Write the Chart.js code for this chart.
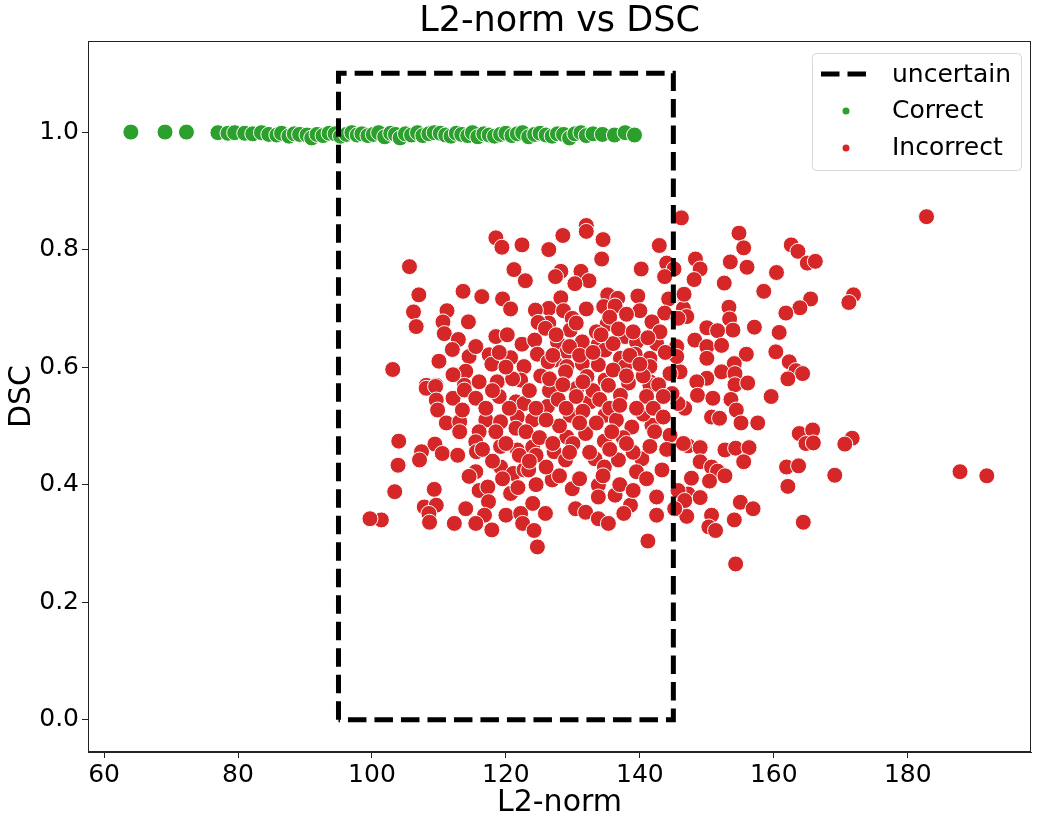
<!DOCTYPE html>
<html>
<head>
<meta charset="utf-8">
<script src="https://cdn.jsdelivr.net/npm/chart.js@4.4.1/dist/chart.umd.min.js"></script>
<style>
  body { margin: 0; background: #fff; }
  #wrap { width: 1040px; height: 824px; }
</style>
</head>
<body>
<div id="wrap"><canvas id="c"></canvas></div>
<script>
// axis ticks
const xTicks = [60, 80, 100, 120, 140, 160, 180];
const yTicks = [0.0, 0.2, 0.4, 0.6, 0.8, 1.0];

// dashed "uncertain" box corners
const boxX = [95, 95, 145, 145, 95];
const boxY = [0, 1.1, 1.1, 0, 0];

// Correct samples [L2-norm, DSC]
const correctPts = [
  [64.0,1.0],[69.1,1.0],[72.3,1.0],[77.0,0.999],[78.5,0.998],[79.5,0.999],[81.0,0.998],[82.2,0.997],
  [83.5,0.999],[84.6,0.996],[85.8,0.995],[86.5,0.998],[87.6,0.993],[88.4,0.997],[89.2,0.996],[90.3,0.995],
  [91.0,0.990],[91.8,0.996],[92.7,0.994],[93.6,0.998],[94.5,0.997],[95.3,0.993],[96.2,0.996],[97.0,0.999],
  [97.8,0.995],[98.5,0.997],[99.4,0.994],[100.2,0.996],[101.0,0.999],[101.9,0.992],[102.8,0.998],[103.5,0.996],
  [104.2,0.990],[105.0,0.997],[105.9,0.995],[106.8,0.999],[107.6,0.994],[108.5,0.997],[109.3,0.999],[110.2,0.998],
  [111.0,0.995],[111.8,0.993],[112.6,0.998],[113.4,0.996],[114.3,0.994],[115.0,0.999],[115.8,0.992],[116.7,0.997],
  [117.5,0.995],[118.3,0.993],[119.2,0.996],[120.0,0.998],[120.9,0.994],[121.7,0.997],[122.5,0.999],[123.4,0.992],
  [124.3,0.996],[125.1,0.998],[126.0,0.995],[126.9,0.993],[127.7,0.997],[128.6,0.996],[129.5,0.990],[130.3,0.997],
  [131.2,0.999],[132.0,0.994],[133.0,0.997],[134.4,0.996],[136.2,0.995],[137.8,0.999],[139.2,0.995]
];

// Incorrect samples [L2-norm, DSC]
const incorrectPts = [
  // right side
  [182.8,0.856],[146.2,0.854],[154.8,0.828],[155.5,0.803],[162.6,0.808],[163.6,0.797],[165.0,0.777],[166.2,0.780],
  [148.3,0.784],[149.0,0.767],[153.5,0.779],[156.0,0.770],[160.4,0.761],[148.1,0.749],[152.6,0.743],[158.5,0.729],
  [146.5,0.723],[171.9,0.723],[171.2,0.710],[165.5,0.716],[163.9,0.701],[161.8,0.692],[153.3,0.702],[153.4,0.682],
  [153.9,0.663],[146.5,0.700],[147.0,0.686],[150.0,0.667],[151.6,0.662],[157.1,0.668],[160.8,0.659],[148.2,0.646],
  [150.0,0.635],[152.2,0.637],[150.0,0.615],[155.9,0.622],[160.3,0.626],[162.3,0.609],[163.3,0.594],[164.3,0.589],
  [162.1,0.580],[154.1,0.606],[152.2,0.592],[154.2,0.589],[146.0,0.592],[150.0,0.581],[148.5,0.575],[154.2,0.570],
  [156.1,0.573],[148.6,0.552],[150.9,0.547],[153.6,0.545],[159.6,0.550],[146.7,0.530],[150.7,0.515],[151.9,0.513],
  [154.4,0.527],[155.1,0.505],[157.6,0.505],[163.8,0.487],[165.8,0.493],[164.8,0.470],[165.9,0.471],[171.7,0.479],
  [170.6,0.469],[147.2,0.466],[149.0,0.463],[152.7,0.459],[154.3,0.462],[156.3,0.463],[149.0,0.439],[155.5,0.439],
  [150.7,0.430],[151.6,0.423],[152.7,0.415],[150.4,0.406],[147.7,0.411],[161.9,0.430],[163.7,0.432],[162.1,0.397],
  [169.1,0.416],[187.8,0.422],[191.8,0.415],[147.2,0.384],[149.0,0.378],[146.0,0.359],[147.0,0.346],[155.0,0.370],
  [156.9,0.359],[154.1,0.340],[150.7,0.348],[150.3,0.328],[151.3,0.322],[164.4,0.336],[154.3,0.265],
  // upper middle
  [132.0,0.841],[132.0,0.831],[128.5,0.824],[134.5,0.817],[126.4,0.800],[134.3,0.784],[142.9,0.807],[140.2,0.767],
  [144.0,0.777],[145.1,0.767],[128.2,0.763],[127.4,0.754],[131.2,0.763],[132.4,0.747],[130.3,0.742],[143.7,0.754],
  [128.2,0.718],[135.2,0.723],[136.7,0.717],[139.7,0.721],[144.3,0.716],[146.6,0.724],[126.4,0.700],[128.6,0.696],
  [132.0,0.699],[134.6,0.703],[136.3,0.704],[140.0,0.696],[143.7,0.692],[129.9,0.683],[141.8,0.677],[145.7,0.683],
  [135.1,0.673],[126.4,0.675],[129.6,0.663],[137.8,0.652],[127.7,0.643],[131.4,0.643],[133.8,0.639],[134.8,0.629],
  [139.5,0.643],[141.5,0.615],[145.5,0.635],[129.1,0.626],[127.2,0.612],[131.4,0.606],[137.1,0.615],[139.3,0.622],
  [145.5,0.618],[129.1,0.601],[133.8,0.604],[137.8,0.601],[141.5,0.601],[144.5,0.589],[132.1,0.584],[134.8,0.578],
  [138.3,0.573],[141.5,0.575],
  // upper left
  [118.5,0.820],[119.4,0.804],[122.4,0.808],[105.6,0.771],[121.2,0.766],[122.9,0.747],[107.0,0.723],[113.6,0.729],
  [116.4,0.720],[119.5,0.716],[120.7,0.699],[106.2,0.694],[106.6,0.669],[111.2,0.696],[110.6,0.677],[110.8,0.657],
  [112.9,0.647],[114.4,0.677],[124.4,0.697],[124.8,0.676],[125.9,0.666],[118.5,0.652],[120.2,0.655],[122.4,0.639],
  [124.3,0.646],[114.5,0.618],[117.5,0.621],[117.9,0.605],[120.7,0.616],[124.7,0.622],[126.3,0.609],[103.1,0.596],
  [112.3,0.587],[114.0,0.593],[122.7,0.601],[125.2,0.585],[108.1,0.569],[109.6,0.569],[113.8,0.569],[118.8,0.575],
  [122.2,0.578],
  // lower left
  [108.1,0.564],[109.5,0.567],[112.1,0.587],[109.6,0.544],[109.8,0.527],[112.1,0.547],[113.8,0.561],[115.5,0.547],
  [118.7,0.575],[121.5,0.541],[122.7,0.538],[111.1,0.505],[113.1,0.507],[113.5,0.527],[113.1,0.490],[117.0,0.510],
  [119.2,0.507],[121.7,0.515],[121.5,0.496],[116.0,0.490],[104.0,0.474],[109.4,0.469],[107.4,0.456],[110.5,0.453],
  [112.8,0.450],[115.5,0.473],[115.6,0.456],[119.2,0.465],[121.7,0.459],[107.1,0.442],[103.9,0.433],[115.5,0.422],
  [114.5,0.414],[119.2,0.430],[121.1,0.419],[122.7,0.425],[116.0,0.390],[117.3,0.396],[120.7,0.385],[103.4,0.388],
  [109.3,0.392],[107.8,0.362],[109.6,0.365],[108.5,0.351],[108.6,0.336],[114.0,0.359],[117.4,0.371],[116.8,0.348],
  [120.0,0.348],[122.2,0.351],[112.3,0.334],[115.5,0.334],[117.9,0.323],[122.5,0.334],[101.4,0.340],[99.7,0.342],
  // lower middle
  [128.9,0.592],[135.3,0.569],[141.5,0.569],[126.2,0.533],[130.6,0.564],[132.6,0.541],[137.1,0.552],[141.0,0.550],
  [145.7,0.538],[124.0,0.510],[129.6,0.518],[134.8,0.518],[138.8,0.498],[141.8,0.501],[144.5,0.484],[129.1,0.481],
  [131.9,0.487],[134.7,0.474],[124.0,0.464],[127.2,0.456],[128.9,0.442],[133.3,0.444],[134.7,0.430],[136.8,0.442],
  [140.3,0.444],[139.5,0.422],[143.3,0.425],[146.5,0.470],[123.4,0.425],[126.9,0.408],[129.9,0.393],[133.8,0.399],
  [133.8,0.379],[136.3,0.382],[142.5,0.379],[145.7,0.390],[146.7,0.373],[124.0,0.368],[125.9,0.351],[124.2,0.322],
  [130.4,0.359],[131.9,0.353],[133.8,0.342],[135.3,0.334],[138.6,0.365],[137.6,0.351],[142.5,0.348],[145.2,0.359],
  [124.7,0.294],[141.2,0.304],
  // dense core
  [126.5,0.560],[127.8,0.545],[129.0,0.530],[130.5,0.550],[131.5,0.525],[133.0,0.560],[134.0,0.545],[135.5,0.530],
  [136.5,0.510],[128.0,0.500],[130.0,0.470],[132.5,0.455],[135.5,0.460],[137.5,0.480],[139.0,0.455],[140.5,0.520],
  [142.0,0.530],[143.5,0.515],[119.0,0.550],[120.5,0.530],[123.0,0.490],[125.0,0.480],[126.0,0.430],[128.0,0.415],
  [131.0,0.410],[134.5,0.415],[137.0,0.400],[139.0,0.390],[141.0,0.410],[118.0,0.440],[116.5,0.460],[124.5,0.450],
  [127.0,0.620],[129.5,0.635],[131.0,0.620],[133.0,0.625],[136.0,0.640],[138.5,0.620],[140.5,0.585],[127.5,0.655],
  [130.5,0.675],[133.5,0.660],[135.5,0.685],[138.0,0.690],[142.5,0.640],[143.0,0.660],[121.0,0.580],[123.5,0.560],
  [124.5,0.530],[126.0,0.510],
  [134.2,0.655],[136.8,0.665],[139.0,0.660],[141.2,0.650],[143.8,0.625],[136.0,0.595],[138.0,0.585],[140.0,0.605],
  [142.8,0.570],[144.8,0.555],[143.5,0.550],[137.0,0.535],[139.5,0.530],[142.2,0.490],[144.0,0.460],[141.5,0.465],
  [138.0,0.470],[135.8,0.490],[133.5,0.505],[131.0,0.505],[129.5,0.455],[127.0,0.470],[126.5,0.580],[128.5,0.570],
  [131.5,0.575],[117.0,0.530],[118.5,0.490],[120.0,0.470],[122.0,0.450],[123.5,0.440],[119.5,0.410],[121.8,0.395],
  [124.5,0.400],[118.0,0.560],[116.0,0.575],[120.0,0.600],[119.0,0.625],[115.5,0.635],[112.0,0.630],[110.0,0.610]
];

const GREEN = '#2ca02c';
const RED = '#d62728';
const FONT = "'DejaVu Sans', sans-serif";
const TITLE = 'L2-norm vs DSC';

function toXY(pts) {
  return pts.map(p => ({ x: p[0], y: p[1] }));
}

// fixed tick positions like matplotlib
function fixTicks(list) {
  return function (scale) {
    scale.ticks = list.map(v => ({ value: v }));
  };
}

// frame on all four sides, title over the plot area, legend inside the plot
const framePlugin = {
  id: 'frame',
  afterDraw(chart) {
    const ctx = chart.ctx;
    const a = chart.chartArea;
    ctx.save();
    ctx.strokeStyle = '#222';
    ctx.lineWidth = 1;
    ctx.strokeRect(a.left + 0.5, a.top + 0.5, a.right - a.left - 1, a.bottom - a.top - 1);

    // title centred on the axes, like matplotlib
    ctx.fillStyle = '#000';
    ctx.font = '35px ' + FONT;
    ctx.textAlign = 'center';
    ctx.textBaseline = 'middle';
    ctx.fillText(TITLE, (a.left + a.right) / 2, 22);

    // legend box
    const lx = 812, ly = 53, lw = 209, lh = 117;
    ctx.fillStyle = 'rgba(255,255,255,0.8)';
    ctx.strokeStyle = '#d8d8d8';
    ctx.lineWidth = 1;
    ctx.beginPath();
    ctx.roundRect(lx + 0.5, ly + 0.5, lw, lh, 4);
    ctx.fill();
    ctx.stroke();

    // uncertain: dashed line
    ctx.strokeStyle = '#000';
    ctx.lineWidth = 5;
    ctx.setLineDash([18.5, 8]);
    ctx.beginPath();
    ctx.moveTo(821, 74);
    ctx.lineTo(867, 74);
    ctx.stroke();
    ctx.setLineDash([]);

    // dots
    ctx.fillStyle = GREEN;
    ctx.beginPath();
    ctx.arc(846, 111, 3.5, 0, Math.PI * 2);
    ctx.fill();
    ctx.fillStyle = RED;
    ctx.beginPath();
    ctx.arc(846, 148, 3.5, 0, Math.PI * 2);
    ctx.fill();

    ctx.fillStyle = '#000';
    ctx.font = '25px ' + FONT;
    ctx.textBaseline = 'middle';
    ctx.textAlign = 'left';
    ctx.fillText('uncertain', 892, 75);
    ctx.fillText('Correct', 892, 111);
    ctx.fillText('Incorrect', 892, 148);
    ctx.restore();
  }
};

new Chart(document.getElementById('c'), {
  type: 'scatter',
  data: {
    datasets: [
      {
        label: 'uncertain',
        data: boxX.map((x, i) => ({ x: x, y: boxY[i] })),
        showLine: true,
        borderColor: '#000',
        borderWidth: 5,
        borderDash: [18.5, 8],
        pointRadius: 0,
        fill: false,
        tension: 0,
        order: 0
      },
      {
        label: 'Correct',
        data: toXY(correctPts),
        backgroundColor: GREEN,
        borderColor: '#fff',
        borderWidth: 1,
        pointRadius: 8,
        order: 2
      },
      {
        label: 'Incorrect',
        data: toXY(incorrectPts),
        backgroundColor: RED,
        borderColor: '#fff',
        borderWidth: 1,
        pointRadius: 8,
        order: 1
      }
    ]
  },
  options: {
    responsive: true,
    maintainAspectRatio: false,
    animation: false,
    devicePixelRatio: 1,
    layout: { padding: { left: 0, right: 7, top: 41, bottom: 0 } },
    plugins: {
      legend: { display: false },
      tooltip: { enabled: false },
      title: { display: false }
    },
    scales: {
      x: {
        type: 'linear',
        min: 57.6,
        max: 198.4,
        afterBuildTicks: fixTicks(xTicks),
        afterFit(scale) { scale.height = 72; },
        grid: { display: true, drawOnChartArea: false, drawTicks: true, tickLength: 6, color: '#222' },
        border: { display: true, color: '#222' },
        ticks: { color: '#000', font: { family: FONT, size: 25 }, padding: 2, maxRotation: 0 },
        title: {
          display: true,
          text: 'L2-norm',
          color: '#000',
          font: { family: FONT, size: 30 },
          padding: { top: 0, bottom: 3 }
        }
      },
      y: {
        type: 'linear',
        min: -0.055,
        max: 1.155,
        afterBuildTicks: fixTicks(yTicks),
        afterFit(scale) { scale.width = 88; },
        grid: { display: true, drawOnChartArea: false, drawTicks: true, tickLength: 6, color: '#222' },
        border: { display: true, color: '#222' },
        ticks: {
          color: '#000',
          font: { family: FONT, size: 25 },
          padding: 3,
          callback: v => v.toFixed(1)
        },
        title: {
          display: true,
          text: 'DSC',
          color: '#000',
          font: { family: FONT, size: 30 },
          padding: { top: 4, bottom: 0 }
        }
      }
    }
  },
  plugins: [framePlugin]
});
</script>
</body>
</html>
